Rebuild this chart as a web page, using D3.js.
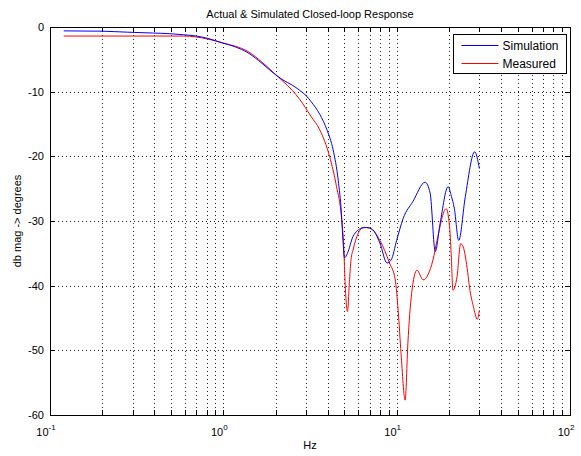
<!DOCTYPE html>
<html>
<head>
<meta charset="utf-8">
<script src="https://cdn.jsdelivr.net/npm/d3@7"></script>
<style>
  body { margin: 0; background: #fff; }
  text { font-family: "Liberation Sans", Arial, sans-serif; fill: #000; }
</style>
</head>
<body>
<div id="chart"></div>
<script>
// data
const simFreq = [0.12, 0.2, 0.28, 0.39, 0.5, 0.59, 0.7, 0.81, 1.0, 1.18, 1.37, 1.6, 1.94, 2.21, 2.5, 2.76, 3.0, 3.2, 3.6, 3.96,
  4.3, 4.6, 4.8, 4.9, 5.0, 5.2, 5.6, 6.3, 6.7, 7.3, 8.0, 8.8, 9.3, 10, 10.9, 12.4, 14.6, 15.6, 16.7,
  17.8, 19.8, 20.7, 21.5, 22.8, 24.9, 28.2, 30];
const simDb = [-0.6, -0.65, -0.8, -0.93, -1.05, -1.2, -1.4, -1.75, -2.5, -3.1, -3.9, -5.2, -7.1, -8.2, -9.0, -9.8, -10.6, -11.5, -13.5, -15.9,
  -19, -23.7, -28.8, -33, -35.7, -35, -32.4, -31.1, -31, -31.4, -33.4, -36.5, -36, -33, -29.6, -27, -24, -25.7, -34.7,
  -30.4, -24.7, -26.2, -28, -33, -26.2, -19.3, -21.9];

const measFreq = [0.12, 0.3, 0.59, 0.81, 1.0, 1.18, 1.37, 1.6, 1.94, 2.21, 2.5, 2.76, 3.2, 3.6, 4.1, 4.5, 4.8, 4.95, 5.05,
  5.2, 5.35, 5.45, 5.6, 6.0, 6.4, 7.0, 8.0, 9.1, 9.8, 10.2, 10.6, 11.2, 11.6, 12.2, 13.1, 14.2, 16.2, 17.1,
  19.3, 20.2, 20.7, 21.1, 22.3, 23.4, 24.2, 25.7, 26.3, 27.7, 29.2, 30];
const measDb = [-1.4, -1.4, -1.4, -1.85, -2.5, -3.0, -3.7, -5.0, -7.0, -8.4, -9.8, -11.2, -13.8, -15.9, -20, -24.7, -29.3, -34, -40,
  -44, -39, -36, -34.5, -31.9, -31, -31.1, -33, -36.5, -39, -43.8, -50.5, -57.7, -49, -41.2, -37.6, -39.1, -36, -33,
  -28.1, -30.9, -36, -40.7, -38.6, -33.5, -34, -38, -40.2, -43.2, -45.2, -43.8];

const yTicks = [0, -10, -20, -30, -40, -50, -60];
const xDecades = [-1, 0, 1, 2];

const W = 581, H = 456;
const margin = { top: 27, right: 11, bottom: 41, left: 50 };
const w = W - margin.left - margin.right;
const h = H - margin.top - margin.bottom;

const svg = d3.select("#chart").append("svg")
  .attr("width", W).attr("height", H);

const g = svg.append("g").attr("transform", `translate(${margin.left},${margin.top})`);

const x = d3.scaleLog().domain([0.1, 100]).range([0, w]);
const y = d3.scaleLinear().domain([-60, 0]).range([h, 0]);

// minor + major positions for log axis
const xAll = [];
for (let d = -1; d < 2; d++) {
  for (let m = 1; m < 10; m++) xAll.push(m * Math.pow(10, d));
}
xAll.push(100);

// grid
g.append("g").selectAll("line").data(xAll.slice(1, -1)).enter().append("line")
  .attr("x1", d => Math.round(x(d)) + 0.5).attr("x2", d => Math.round(x(d)) + 0.5)
  .attr("y1", 0).attr("y2", h)
  .attr("stroke", "#000").attr("stroke-opacity", 0.85)
  .attr("stroke-dasharray", "1,3");
g.append("g").selectAll("line").data(yTicks.slice(1, -1)).enter().append("line")
  .attr("x1", 0).attr("x2", w)
  .attr("y1", d => Math.round(y(d)) + 0.5).attr("y2", d => Math.round(y(d)) + 0.5)
  .attr("stroke", "#000").attr("stroke-opacity", 0.9)
  .attr("stroke-dasharray", "1,3");

// ticks inside on all sides
const tk = g.append("g").attr("stroke", "#000").attr("stroke-width", 1);
xAll.forEach(d => {
  const px = Math.round(x(d)) + 0.5;
  const len = 5;
  tk.append("line").attr("x1", px).attr("x2", px).attr("y1", h).attr("y2", h - len);
  tk.append("line").attr("x1", px).attr("x2", px).attr("y1", 0).attr("y2", len);
});
yTicks.forEach(d => {
  const py = Math.round(y(d)) + 0.5;
  tk.append("line").attr("x1", 0).attr("x2", 5).attr("y1", py).attr("y2", py);
  tk.append("line").attr("x1", w).attr("x2", w - 5).attr("y1", py).attr("y2", py);
});

// frame
g.append("rect").attr("x", 0.5).attr("y", 0.5).attr("width", w).attr("height", h)
  .attr("fill", "none").attr("stroke", "#000");

// y tick labels
g.append("g").selectAll("text").data(yTicks).enter().append("text")
  .attr("x", -6).attr("y", d => y(d) + 4)
  .attr("text-anchor", "end")
  .style("font-size", "11px")
  .text(d => d);

// x tick labels: 10^n
xDecades.forEach(n => {
  const t = g.append("text")
    .attr("x", x(Math.pow(10, n)) - 4)
    .attr("y", h + 21)
    .attr("text-anchor", "middle")
    .style("font-size", "11px");
  t.append("tspan").text("10");
  t.append("tspan").attr("dy", -6).style("font-size", "8px").text(n);
});

// lines
const line = d3.line()
  .x(d => x(d[0]))
  .y(d => y(d[1]))
  .curve(d3.curveMonotoneX);

g.append("path")
  .datum(measFreq.map((f, i) => [f, measDb[i]]))
  .attr("fill", "none").attr("stroke", "#ff0000").attr("stroke-width", 1)
  .attr("d", line);

g.append("path")
  .datum(simFreq.map((f, i) => [f, simDb[i]]))
  .attr("fill", "none").attr("stroke", "#0000ff").attr("stroke-width", 1)
  .attr("d", line);

// title and axis labels
svg.append("text")
  .attr("x", margin.left + w / 2).attr("y", 18)
  .attr("text-anchor", "middle")
  .style("font-size", "11px")
  .text("Actual & Simulated Closed-loop Response");

svg.append("text")
  .attr("x", margin.left + w / 2).attr("y", 449)
  .attr("text-anchor", "middle")
  .style("font-size", "11px")
  .text("Hz");

svg.append("text")
  .attr("transform", `translate(21,${margin.top + h / 2}) rotate(-90)`)
  .attr("text-anchor", "middle")
  .style("font-size", "11px")
  .text("db mag -> degrees");

// legend
const leg = svg.append("g").attr("transform", "translate(453.5,34.5)");
leg.append("rect").attr("width", 113).attr("height", 39)
  .attr("fill", "#fff").attr("stroke", "#000");
const legItems = [
  { name: "Simulation", color: "#0000ff" },
  { name: "Measured", color: "#ff0000" }
];
legItems.forEach((d, i) => {
  const yy = 11 + i * 18;
  leg.append("line").attr("x1", 8).attr("x2", 45).attr("y1", yy).attr("y2", yy)
    .attr("stroke", d.color);
  leg.append("text").attr("x", 49).attr("y", yy + 4)
    .style("font-size", "12px").text(d.name);
});
</script>
</body>
</html>
